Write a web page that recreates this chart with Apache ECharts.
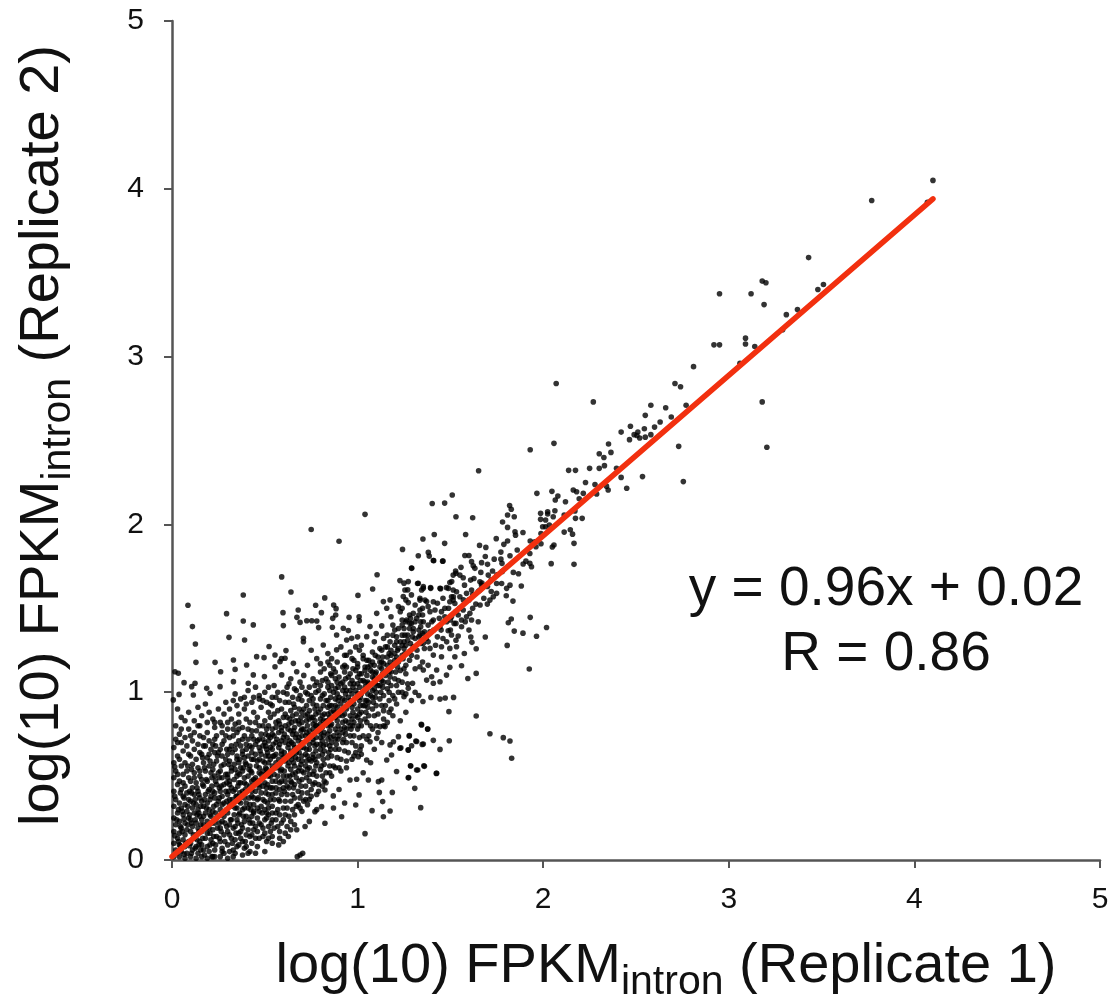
<!DOCTYPE html>
<html><head><meta charset="utf-8">
<style>html,body{margin:0;padding:0;background:#fff}#c{width:1116px;height:997px}</style>
<script src="https://cdn.jsdelivr.net/npm/echarts@6/dist/echarts.min.js"></script>
</head><body><div id="c"></div>
<script>
const axisTicks=[0,1,2,3,4,5];
const fitX=[0,4.1];
const fitY=[0.02,3.94];
const fitLabel='y = 0.96x + 0.02';
const corrLabel='R = 0.86';
const tail=[[4.1,4.05],[3.77,3.93],[4.07,3.92],[3.43,3.59],[3.51,3.43],[3.48,3.4],[3.18,3.45],[3.2,3.44],[2.95,3.375],[3.12,3.375],[3.19,3.31],[3.37,3.28],[3.31,3.25],[3.29,3.16],[3.09,3.11],[3.09,3.075],[2.92,3.07],[2.95,3.07],[3.14,3.06],[3.06,2.96],[2.81,2.94],[2.71,2.84],[2.74,2.82],[2.77,2.71],[3.18,2.73],[2.58,2.71],[2.66,2.695],[2.55,2.65],[2.69,2.64],[2.63,2.61],[2.47,2.585],[2.6,2.58],[2.545,2.57],[2.42,2.55],[2.51,2.55],[2.49,2.535],[2.505,2.53],[2.58,2.535],[2.55,2.52],[2.52,2.515],[2.465,2.505],[2.73,2.465],[3.205,2.46],[2.42,2.28],[2.535,2.285],[2.755,2.255],[2.45,2.215],[2.27,2.73],[2.058,2.483],[1.93,2.445],[1.652,2.32],[2.137,2.322],[2.174,2.322],[2.25,2.334],[2.302,2.334],[2.33,2.35],[2.327,2.399],[2.302,2.421],[2.365,2.429],[2.352,2.479],[2.395,2.334],[2.228,2.25],[2.279,2.238],[2.341,2.228],[2.35,2.205],[2.288,2.181],[1.966,2.185],[2.047,2.197],[2.079,2.169],[2.065,2.145],[2.12,2.135],[2.162,2.205],[2.18,2.195],[2.216,2.185],[2.194,2.153],[2.07,2.84]];
const midUpper=[[1.51,2.175],[1.402,2.125],[1.469,2.127],[1.819,2.113],[1.828,2.09],[1.808,2.056],[1.844,2.046],[1.781,2.014],[1.808,1.982],[1.53,2.046],[1.62,2.04],[1.986,2.066],[2.024,2.075],[2.024,2.062],[2.063,2.081],[2.054,2.046],[1.986,2.03],[2.013,2.026],[1.997,1.986],[2.013,1.986],[2.033,1.996],[2.113,2.056],[2.171,2.08],[2.174,2.036],[2.21,2.036],[2.113,1.954],[2.146,1.968],[2.158,1.942],[2.166,1.887],[2.166,1.762],[2.043,1.766],[1.848,1.956],[1.851,1.936],[1.891,1.952],[1.988,1.946],[1.93,1.901],[1.955,1.897],[1.988,1.885],[2.058,1.877],[2.049,1.865],[1.961,1.867],[1.582,1.94],[1.413,1.94],[1.352,1.913],[1.469,1.887],[1.242,1.851],[1.327,1.813],[1.381,1.833],[1.386,1.811],[1.408,1.785],[1.458,1.781],[1.291,1.738],[1.747,1.915],[1.808,1.901],[1.788,1.881],[1.657,1.875],[1.691,1.863],[1.772,1.835],[1.86,1.847],[1.928,1.827],[1.578,1.815],[1.6,1.815],[1.688,1.809],[1.736,1.793],[1.772,1.793],[1.821,1.813],[1.778,1.768],[1.614,1.778],[1.668,1.772],[1.7,1.762],[1.623,1.754],[1.907,1.781],[1.928,1.768],[1.937,1.748],[1.892,1.764],[1.557,1.744],[1.528,1.722],[1.551,1.698],[1.515,1.698],[1.569,1.682],[1.632,1.738],[1.664,1.714],[1.727,1.722],[1.704,1.698],[1.839,1.714],[1.867,1.706],[1.627,1.678],[1.609,1.668],[1.497,1.654],[1.659,1.658],[1.668,1.638],[1.749,1.648],[1.776,1.648],[1.821,1.638],[1.803,1.619],[1.882,1.633],[1.576,1.638],[1.515,1.609],[1.533,1.599],[1.614,1.609],[1.659,1.609],[1.749,1.589],[1.731,1.569],[1.713,1.549],[1.801,1.575],[1.837,1.543],[1.699,1.525],[1.637,1.525],[1.393,1.623],[1.447,1.617],[1.479,1.623],[1.323,1.648],[1.354,1.629],[1.345,1.609],[1.408,1.539],[1.336,1.549],[1.363,1.549],[1.506,1.569],[1.515,1.549],[1.497,1.539],[1.551,1.569],[1.587,1.589],[1.524,1.529],[1.47,1.5],[1.452,1.48],[1.417,1.49],[1.39,1.48],[1.336,1.49],[1.3,1.47],[1.264,1.43],[1.282,1.41],[1.318,1.44],[1.354,1.42],[1.408,1.43],[1.444,1.39],[1.506,1.45],[1.569,1.49],[1.587,1.45],[1.614,1.43],[1.65,1.42],[1.56,1.39],[1.542,1.46],[1.605,1.47],[1.25,1.65],[1.27,1.61],[1.26,1.55],[1.29,1.58],[1.31,1.52],[1.24,1.5],[1.35,1.46],[1.38,1.51],[1.43,1.53],[1.46,1.56],[1.49,1.5],[1.53,1.48],[1.44,1.44],[1.48,1.42],[1.52,1.41],[1.58,1.42],[1.62,1.5],[1.66,1.52],[1.68,1.56],[1.72,1.6],[1.3,1.36],[1.34,1.39],[1.38,1.4],[1.41,1.37]];
const midLower=[[1.812,1.414],[1.828,1.436],[1.93,1.446],[2.018,1.386],[1.844,1.364],[1.891,1.352],[1.964,1.333],[1.806,1.279],[1.925,1.138],[1.688,1.329],[1.61,1.329],[1.616,1.297],[1.639,1.259],[1.575,1.231],[1.56,1.158],[1.639,1.112],[1.594,1.082],[1.488,1.366],[1.506,1.341],[1.542,1.335],[1.452,1.271],[1.533,1.271],[1.497,1.261],[1.39,1.261],[1.336,1.341],[1.354,1.291],[1.408,1.221],[1.452,1.211],[1.524,1.211],[1.497,1.148],[1.336,1.152],[1.354,1.132],[1.426,1.132],[1.479,1.102],[1.444,1.062],[1.408,1.053],[1.399,1.092],[1.372,1.072],[1.296,1.053],[1.273,1.023],[1.25,0.973],[1.352,0.945],[1.395,0.969],[1.444,0.959],[1.472,0.965],[1.517,0.969],[1.492,0.884],[1.639,0.858],[1.343,0.808],[1.377,0.78],[1.278,0.739],[1.314,0.709],[1.291,0.681],[1.273,0.655],[1.233,0.669],[1.348,0.689],[1.408,0.713],[1.494,0.711],[1.444,0.659],[1.713,0.752],[1.785,0.729],[1.821,0.709],[1.83,0.606],[1.285,0.562],[1.357,0.562],[1.318,0.536],[1.424,0.516],[1.273,0.49],[1.04,0.157],[1.34,0.312],[1.426,0.517],[1.36,0.558],[1.324,0.536],[1.286,0.56],[1.275,0.491],[1.308,0.427],[1.187,0.403],[1.175,0.292],[1.139,0.258],[1.078,0.294],[1.135,0.348],[1.117,0.403],[1.112,0.467],[1.13,0.477],[1.058,0.477],[0.995,0.481],[0.959,0.477],[1.008,0.388],[0.99,0.328],[0.914,0.258],[0.824,0.219],[0.69,0.03],[0.704,0.04],[0.675,0.02],[0.575,0.09],[0.6,0.11],[0.627,0.14],[0.672,0.18],[0.717,0.2],[0.77,0.288],[0.806,0.318],[0.869,0.382],[0.824,0.417],[1.21,0.527],[1.22,0.735],[1.193,0.705],[1.175,0.686],[1.279,0.741],[1.318,0.706],[1.273,0.656],[1.228,0.666],[1.345,0.805],[1.378,0.781],[1.354,0.691],[1.157,0.596],[1.183,0.626],[1.121,0.795],[1.148,0.795],[1.103,0.725],[1.067,0.705],[1.013,0.656],[1.049,0.596],[1.004,0.616],[1.29,0.95],[1.31,1.0],[1.33,0.98],[1.26,1.11],[1.28,1.19],[1.25,1.26],[1.27,1.31],[1.3,1.27],[1.32,1.21],[1.35,1.18],[1.38,1.16],[1.24,1.06],[1.22,1.0],[1.21,0.93],[1.26,0.88],[1.23,0.83],[1.19,0.86],[1.16,0.82],[1.14,0.89],[1.17,0.95],[1.13,0.7],[1.09,0.66],[1.07,0.58],[1.03,0.52],[0.93,0.34],[0.87,0.31],[0.9,0.42],[0.78,0.3],[0.74,0.23],[0.66,0.21]];
const leftUpper=[[0.086,1.518],[0.11,1.391],[0.126,1.287],[0.129,1.178],[0.384,1.579],[0.591,1.687],[0.641,1.597],[0.294,1.468],[0.384,1.424],[0.438,1.401],[0.307,1.327],[0.391,1.311],[0.598,1.474],[0.6,1.397],[0.68,1.49],[0.673,1.446],[0.774,1.518],[0.823,1.562],[0.805,1.474],[0.871,1.52],[0.884,1.498],[1.002,1.577],[1.081,1.615],[1.105,1.7],[1.291,1.74],[1.41,1.784],[1.46,1.782],[0.954,1.446],[1.008,1.45],[1.009,1.426],[0.866,1.44],[0.882,1.46],[0.69,1.416],[0.726,1.426],[0.753,1.426],[0.78,1.424],[0.79,1.385],[0.864,1.387],[0.887,1.341],[0.923,1.381],[0.95,1.367],[0.968,1.321],[0.941,1.311],[1.049,1.331],[1.067,1.391],[1.103,1.47],[1.13,1.395],[1.157,1.5],[1.139,1.54],[1.175,1.55],[1.22,1.51],[1.228,1.665],[1.273,1.659],[1.255,1.609],[1.246,1.57],[1.273,1.534],[1.327,1.649],[1.354,1.619],[1.394,1.619],[1.336,1.56],[1.372,1.54],[1.444,1.619],[1.489,1.619],[1.507,1.659],[1.53,1.709],[1.516,1.569],[0.016,1.122],[0.034,1.113],[0.065,1.057],[0.124,1.053],[0.106,1.033],[0.115,0.983],[0.038,0.987],[0.007,0.954],[0.187,1.023],[0.259,1.033],[0.205,0.993],[0.232,1.178],[0.262,1.122],[0.331,1.192],[0.34,1.136],[0.402,1.162],[0.331,1.063],[0.411,1.053],[0.456,1.212],[0.496,1.206],[0.438,1.103],[0.498,1.093],[0.523,1.272],[0.555,1.222],[0.614,1.248],[0.609,1.202],[0.582,1.182],[0.555,1.152],[0.654,1.172],[0.591,1.103],[0.672,1.122],[0.708,1.321],[0.708,1.301],[0.815,1.281],[0.887,1.252],[0.75,1.97],[0.9,1.9],[1.04,2.06],[0.59,1.2],[0.75,1.25],[0.78,1.2],[0.84,1.18],[0.94,1.22],[0.99,1.27],[1.03,1.22],[1.09,1.3],[1.12,1.26],[1.16,1.34],[1.19,1.4],[1.21,1.3],[1.18,1.22],[1.13,1.18],[1.07,1.16],[1.0,1.15],[0.93,1.12],[0.86,1.1],[0.8,1.12],[0.73,1.16],[0.69,1.06],[0.63,1.05],[0.55,1.04],[0.47,0.98],[0.39,0.97],[0.34,0.99],[0.29,0.94],[0.25,0.9],[0.18,0.93],[0.14,0.91],[0.09,0.88],[0.05,0.85],[0.02,0.8]];
const denseOrigin=[[.01,.02],[.02,.06],[.01,.1],[.03,.13],[.01,.17],[.02,.21],[.01,.25],[.03,.28],[.01,.32],[.02,.36],[.01,.41],[.03,.45],[.01,.49],[.02,.53],[.01,.58],[.03,.62],[.01,.67],[.02,.72],[.04,.02],[.05,.05],[.04,.09],[.06,.12],[.04,.16],[.05,.19],[.04,.23],[.06,.27],[.05,.31],[.04,.34],[.06,.38],[.05,.42],[.04,.47],[.06,.51],[.05,.56],[.04,.6],[.06,.65],[.05,.7],[.04,.75],[.07,.01],[.08,.04],[.07,.08],[.09,.11],[.07,.15],[.08,.18],[.07,.22],[.09,.25],[.08,.29],[.07,.33],[.09,.36],[.08,.4],[.07,.44],[.09,.49],[.08,.53],[.07,.58],[.09,.63],[.08,.68],[.07,.73],[.09,.78],[.1,.02],[.11,.06],[.1,.1],[.12,.13],[.1,.17],[.11,.2],[.1,.24],[.12,.28],[.11,.31],[.1,.35],[.12,.39],[.11,.43],[.1,.47],[.12,.52],[.11,.57],[.1,.62],[.12,.66],[.11,.71],[.12,.76],[.13,.01],[.14,.04],[.13,.08],[.15,.11],[.13,.15],[.14,.19],[.13,.22],[.15,.26],[.14,.3],[.13,.33],[.15,.37],[.14,.41],[.13,.46],[.15,.5],[.14,.55],[.13,.6],[.15,.64],[.14,.69],[.15,.74],[.14,.8],[.16,.02],[.17,.06],[.16,.09],[.18,.13],[.16,.17],[.17,.21],[.16,.24],[.18,.28],[.17,.32],[.16,.35],[.18,.39],[.17,.44],[.16,.48],[.18,.53],[.17,.58],[.16,.63],[.18,.68],[.17,.73],[.19,.01],[.2,.05],[.19,.08],[.21,.12],[.19,.16],[.2,.19],[.19,.23],[.21,.26],[.2,.3],[.19,.34],[.21,.38],[.2,.42],[.19,.47],[.21,.52],[.2,.56],[.19,.61],[.21,.66],[.2,.71],[.19,.76],[.22,.02],[.23,.06],[.22,.1],[.24,.14],[.22,.18],[.23,.22],[.24,.25],[.22,.29],[.24,.33],[.23,.37],[.22,.41],[.24,.45],[.23,.5],[.22,.54],[.24,.59],[.23,.64],[.22,.69],[.24,.74],[.23,.79],[.22,.84],[.12,.83],[.16,.86],[.07,.83],[.03,.9],[.2,.88]];
const denseLow=[[.26,.02],[.27,.07],[.26,.11],[.28,.15],[.26,.19],[.27,.23],[.28,.26],[.26,.3],[.28,.34],[.27,.38],[.26,.41],[.28,.45],[.27,.49],[.26,.53],[.28,.57],[.27,.62],[.26,.66],[.28,.71],[.27,.76],[.26,.82],[.28,.87],[.3,.01],[.31,.05],[.3,.09],[.32,.13],[.3,.17],[.31,.21],[.32,.24],[.3,.28],[.32,.32],[.31,.36],[.3,.39],[.32,.43],[.31,.47],[.3,.51],[.32,.55],[.31,.59],[.3,.63],[.32,.68],[.31,.73],[.3,.78],[.32,.84],[.31,.9],[.33,.95],[.34,.04],[.35,.08],[.34,.12],[.36,.16],[.34,.2],[.35,.24],[.36,.27],[.34,.31],[.36,.35],[.35,.38],[.34,.42],[.36,.46],[.35,.5],[.34,.54],[.36,.58],[.35,.62],[.34,.66],[.36,.71],[.35,.76],[.34,.81],[.36,.87],[.38,.03],[.39,.07],[.38,.11],[.4,.15],[.38,.19],[.39,.23],[.4,.26],[.38,.3],[.4,.34],[.39,.37],[.38,.41],[.4,.45],[.39,.49],[.38,.53],[.4,.57],[.39,.61],[.38,.65],[.4,.69],[.39,.74],[.38,.79],[.4,.84],[.39,.9],[.42,.05],[.43,.1],[.42,.14],[.44,.18],[.42,.22],[.43,.26],[.44,.29],[.42,.33],[.44,.37],[.43,.41],[.42,.44],[.44,.48],[.43,.52],[.42,.56],[.44,.6],[.43,.64],[.42,.68],[.44,.72],[.43,.77],[.42,.82],[.44,.88],[.43,.94],[.46,.08],[.47,.13],[.46,.17],[.48,.21],[.46,.25],[.47,.29],[.48,.32],[.46,.36],[.48,.4],[.47,.43],[.46,.47],[.48,.51],[.47,.55],[.46,.59],[.48,.63],[.47,.67],[.46,.71],[.48,.75],[.47,.8],[.46,.85],[.48,.91],[.47,.96],[.5,.05],[.51,.11],[.5,.16],[.52,.2],[.5,.24],[.51,.28],[.52,.31],[.5,.35],[.52,.39],[.51,.43],[.5,.46],[.52,.5],[.51,.54],[.5,.58],[.52,.62],[.51,.66],[.5,.7],[.52,.74],[.51,.78],[.5,.83],[.52,.88],[.51,.94],[.5,1.0],[.52,1.03],[.37,.96],[.41,1.01],[.45,1.03]];
const denseMid=[[.54,.14],[.55,.19],[.54,.24],[.56,.28],[.54,.32],[.55,.36],[.56,.4],[.54,.43],[.56,.47],[.55,.51],[.54,.54],[.56,.58],[.55,.62],[.54,.66],[.56,.7],[.55,.74],[.54,.78],[.56,.82],[.55,.87],[.54,.92],[.56,.97],[.58,.17],[.59,.22],[.58,.27],[.6,.31],[.58,.35],[.59,.39],[.6,.43],[.58,.46],[.6,.5],[.59,.54],[.58,.57],[.6,.61],[.59,.65],[.58,.69],[.6,.73],[.59,.77],[.58,.81],[.6,.85],[.59,.9],[.58,.95],[.6,1.0],[.62,.2],[.63,.26],[.62,.31],[.64,.35],[.62,.39],[.63,.43],[.64,.47],[.62,.5],[.64,.54],[.63,.58],[.62,.61],[.64,.65],[.63,.69],[.62,.73],[.64,.77],[.63,.81],[.62,.85],[.64,.89],[.63,.94],[.62,.99],[.64,1.08],[.66,.27],[.67,.32],[.66,.37],[.68,.41],[.66,.45],[.67,.49],[.68,.53],[.66,.56],[.68,.6],[.67,.64],[.66,.67],[.68,.71],[.67,.75],[.66,.79],[.68,.83],[.67,.87],[.66,.91],[.68,.96],[.67,1.01],[.7,.29],[.71,.35],[.7,.4],[.72,.44],[.7,.48],[.71,.52],[.72,.56],[.7,.59],[.72,.63],[.71,.67],[.7,.7],[.72,.74],[.71,.78],[.7,.82],[.72,.86],[.71,.9],[.7,.95],[.72,1.0],[.71,1.1],[.74,.36],[.75,.42],[.74,.47],[.76,.51],[.74,.55],[.75,.59],[.76,.63],[.74,.66],[.76,.7],[.75,.74],[.74,.77],[.76,.81],[.75,.85],[.74,.89],[.76,.93],[.75,.98],[.74,1.03],[.76,1.08],[.78,.39],[.79,.45],[.78,.5],[.8,.54],[.78,.58],[.79,.62],[.8,.66],[.78,.69],[.8,.73],[.79,.77],[.78,.8],[.8,.84],[.79,.88],[.78,.92],[.8,.96],[.79,1.01],[.78,1.06],[.8,1.17],[.82,.47],[.83,.52],[.82,.57],[.84,.61],[.82,.65],[.83,.69],[.84,.72],[.82,.76],[.84,.8],[.83,.83],[.82,.87],[.84,.91],[.83,.95],[.82,.99],[.84,1.03],[.83,1.08],[.82,1.14],[.84,1.23],[.86,.5],[.87,.56],[.86,.62],[.88,.66],[.86,.7],[.87,.74],[.88,.78],[.86,.81],[.88,.85],[.87,.89],[.86,.92],[.88,.96],[.87,1.0],[.86,1.04],[.88,1.08],[.87,1.14],[.86,1.2]];
const denseHigh=[[.9,.55],[.91,.6],[.9,.66],[.92,.7],[.9,.74],[.91,.78],[.92,.82],[.9,.86],[.92,.9],[.91,.93],[.9,.97],[.92,1.01],[.91,1.05],[.9,1.09],[.92,1.15],[.91,1.27],[.94,.59],[.95,.64],[.94,.7],[.96,.74],[.94,.78],[.95,.82],[.96,.86],[.94,.9],[.96,.93],[.95,.97],[.94,1.01],[.96,1.05],[.95,1.09],[.94,1.15],[.96,1.24],[.98,.62],[.99,.68],[.98,.74],[1,.78],[.98,.82],[.99,.86],[1,.9],[.98,.93],[1,.97],[.99,1.01],[.98,1.05],[1,1.09],[.99,1.13],[.98,1.19],[1,1.33],[1.02,.68],[1.03,.74],[1.02,.8],[1.04,.84],[1.02,.88],[1.03,.92],[1.04,.95],[1.02,.99],[1.04,1.03],[1.03,1.07],[1.02,1.11],[1.04,1.15],[1.03,1.2],[1.02,1.28],[1.06,.74],[1.07,.8],[1.06,.86],[1.08,.9],[1.06,.94],[1.07,.98],[1.08,1.01],[1.06,1.05],[1.08,1.09],[1.07,1.13],[1.06,1.19],[1.08,1.24],[1.1,.8],[1.11,.87],[1.1,.92],[1.12,.96],[1.1,1.0],[1.11,1.04],[1.12,1.08],[1.1,1.12],[1.12,1.15],[1.11,1.21],[1.1,1.35],[1.14,.84],[1.15,.92],[1.14,.98],[1.16,1.02],[1.14,1.06],[1.15,1.1],[1.16,1.13],[1.14,1.17],[1.16,1.21],[1.15,1.27],[1.14,1.32],[1.18,.9],[1.19,.98],[1.18,1.04],[1.2,1.08],[1.18,1.12],[1.19,1.16],[1.2,1.19],[1.18,1.25],[1.2,1.28],[1.19,1.34],[1.18,1.45],[1.22,1.07],[1.23,1.13],[1.22,1.18],[1.24,1.22],[1.22,1.26],[1.23,1.3],[1.24,1.34],[1.22,1.38],[1.24,1.43],[1.23,1.48],[1.26,.99],[1.27,1.05],[1.26,1.16],[1.28,1.24],[1.26,1.28],[1.27,1.34],[1.28,1.38],[1.26,1.42],[1.28,1.46],[1.31,1.14],[1.32,1.25],[1.31,1.32],[1.33,1.37],[1.31,1.42],[1.33,1.46],[1.36,1.26],[1.37,1.32],[1.36,1.36],[1.35,1.5],[1.42,1.28],[1.43,1.33],[1.46,1.32],[1.5,1.37],[1.48,1.3],[1.53,1.31],[1.56,1.43],[1.6,1.37]];
const coreNearOrigin=[[.025,.04],[.035,.11],[.015,.145],[.045,.2],[.025,.24],[.035,.3],[.015,.38],[.045,.4],[.03,.51],[.015,.555],[.045,.085],[.065,.035],[.075,.1],[.055,.17],[.085,.21],[.065,.245],[.055,.29],[.085,.32],[.065,.37],[.095,.41],[.06,.46],[.085,.56],[.105,.04],[.095,.085],[.125,.07],[.115,.15],[.135,.12],[.105,.22],[.125,.24],[.095,.27],[.135,.27],[.115,.34],[.125,.36],[.105,.4],[.135,.43],[.12,.49],[.105,.54],[.155,.06],[.145,.09],[.175,.03],[.165,.13],[.145,.17],[.185,.19],[.155,.21],[.17,.26],[.145,.28],[.185,.31],[.155,.32],[.175,.36],[.145,.39],[.195,.41],[.165,.45],[.185,.48],[.15,.53],[.175,.55],[.165,.61],[.215,.02],[.205,.09],[.235,.09],[.225,.14],[.205,.16],[.245,.19],[.215,.22],[.235,.28],[.205,.27],[.225,.32],[.25,.35],[.205,.36],[.23,.4],[.215,.44],[.255,.43],[.235,.47],[.215,.49],[.25,.52],[.225,.57],[.205,.59],[.245,.62],[.235,.68],[.27,.05],[.255,.13],[.285,.11],[.265,.17],[.295,.2],[.255,.22],[.285,.22],[.265,.27],[.295,.3],[.27,.33],[.295,.35],[.255,.37],[.29,.41],[.265,.44],[.295,.46],[.255,.49],[.29,.51],[.265,.56],[.29,.6],[.25,.64],[.295,.66],[.27,.69],[.325,.1],[.31,.15],[.345,.16],[.33,.19],[.315,.24],[.355,.22],[.335,.27],[.31,.33],[.35,.31],[.325,.36],[.305,.41],[.345,.38],[.33,.41],[.355,.44],[.31,.45],[.335,.48],[.3,.49],[.355,.52],[.32,.53],[.335,.57],[.305,.57],[.35,.6],[.325,.64],[.31,.66],[.345,.69],[.33,.74],[.37,.13],[.395,.11],[.375,.21],[.41,.18],[.385,.26],[.365,.28],[.415,.24],[.39,.31],[.37,.34],[.41,.31],[.385,.39],[.365,.4],[.415,.37],[.395,.42],[.37,.46],[.415,.42],[.39,.46],[.365,.51],[.41,.5],[.385,.55],[.37,.55],[.415,.54],[.395,.58],[.365,.6],[.41,.62],[.38,.63],[.4,.66],[.37,.68],[.41,.72],[.38,.72],[.36,.78],[.45,.2],[.435,.22],[.47,.22],[.44,.28],[.46,.31],[.425,.3],[.485,.28],[.44,.33],[.465,.37],[.43,.38],[.49,.36],[.45,.41],[.47,.45],[.43,.47],[.49,.44],[.45,.49],[.47,.52],[.425,.53],[.49,.53],[.455,.56],[.47,.6],[.43,.6],[.49,.59],[.45,.63],[.475,.65],[.43,.67],[.49,.68],[.45,.69],[.47,.72],[.43,.74],[.49,.72],[.455,.77],[.51,.25],[.535,.22],[.52,.27],[.5,.3],[.54,.28],[.515,.34],[.53,.36],[.505,.4],[.54,.39],[.515,.45],[.53,.43],[.505,.51],[.54,.47],[.515,.52],[.53,.5],[.505,.55],[.54,.56],[.52,.58],[.53,.6],[.505,.62],[.545,.62],[.515,.64],[.53,.67],[.505,.68],[.545,.69],[.52,.71],[.53,.73],[.505,.75],[.54,.75],[.52,.8],[.53,.85]];
const coreAlongLine=[[.57,.3],[.575,.36],[.56,.43],[.58,.42],[.57,.5],[.585,.53],[.565,.55],[.59,.47],[.575,.6],[.56,.63],[.59,.63],[.575,.67],[.565,.72],[.59,.71],[.575,.76],[.56,.79],[.59,.79],[.575,.83],[.61,.35],[.605,.41],[.62,.44],[.61,.47],[.635,.5],[.605,.53],[.625,.56],[.61,.59],[.635,.62],[.605,.64],[.625,.67],[.61,.7],[.635,.71],[.605,.75],[.625,.78],[.61,.8],[.635,.84],[.61,.87],[.65,.39],[.655,.43],[.645,.46],[.665,.52],[.65,.51],[.655,.58],[.645,.6],[.665,.61],[.65,.63],[.655,.69],[.645,.7],[.665,.73],[.65,.75],[.655,.77],[.645,.82],[.665,.83],[.65,.86],[.655,.93],[.69,.37],[.695,.44],[.685,.47],[.7,.53],[.685,.55],[.695,.57],[.7,.62],[.685,.64],[.695,.67],[.7,.74],[.685,.73],[.695,.77],[.7,.78],[.685,.81],[.695,.85],[.7,.88],[.685,.9],[.73,.4],[.725,.49],[.74,.51],[.73,.54],[.725,.59],[.74,.6],[.73,.62],[.725,.66],[.74,.69],[.73,.72],[.725,.76],[.74,.74],[.73,.8],[.725,.83],[.74,.84],[.73,.87],[.725,.92],[.74,.95],[.77,.46],[.765,.53],[.775,.56],[.77,.6],[.76,.61],[.775,.65],[.77,.68],[.76,.72],[.775,.73],[.77,.76],[.76,.78],[.775,.8],[.77,.83],[.76,.85],[.775,.87],[.77,.9],[.76,.96],[.775,1.0],[.81,.5],[.805,.56],[.815,.6],[.81,.63],[.8,.69],[.815,.68],[.81,.71],[.8,.76],[.815,.74],[.81,.79],[.8,.81],[.815,.83],[.81,.86],[.8,.9],[.815,.92],[.81,.98],[.8,1.04],[.85,.56],[.845,.64],[.855,.66],[.85,.68],[.84,.75],[.855,.73],[.85,.77],[.84,.83],[.855,.8],[.85,.85],[.84,.87],[.855,.88],[.85,.92],[.84,.95],[.855,.97],[.85,1.01],[.84,1.06],[.855,1.11],[.89,.61],[.885,.69],[.895,.72],[.89,.76],[.88,.72],[.895,.8],[.89,.83],[.88,.88],[.895,.87],[.89,.91],[.88,.92],[.895,.95],[.89,.99],[.88,1.02],[.895,1.03],[.89,1.06],[.88,1.12],[.93,.65],[.925,.72],[.935,.75],[.93,.79],[.92,.76],[.935,.83],[.93,.87],[.92,.86],[.935,.91],[.93,.95],[.92,.96],[.935,.99],[.93,1.03],[.92,1.06],[.935,1.08],[.93,1.16],[.97,.7],[.965,.78],[.975,.8],[.97,.84],[.96,.8],[.975,.88],[.97,.91],[.96,.95],[.975,.95],[.97,.99],[.96,1.01],[.975,1.03],[.97,1.07],[.96,1.11],[.975,1.14],[1.01,.73],[1.005,.8],[1.015,.83],[1.01,.87],[1,.85],[1.015,.92],[1.01,.95],[1,.99],[1.015,.97],[1.01,1.03],[1,1.05],[1.015,1.07],[1.01,1.11],[1,1.17],[1.05,.82],[1.045,.88],[1.055,.91],[1.05,.95],[1.04,.92],[1.055,.99],[1.05,1.02],[1.04,1.06],[1.055,1.06],[1.05,1.1],[1.04,1.13],[1.055,1.15],[1.05,1.19],[1.09,.86],[1.085,.94],[1.095,.97],[1.09,1.02],[1.08,.97],[1.095,1.05],[1.09,1.08],[1.08,1.12],[1.095,1.11],[1.09,1.16],[1.08,1.18],[1.095,1.22],[1.13,.92],[1.125,1.0],[1.135,1.03],[1.13,1.07],[1.12,1.04],[1.135,1.11],[1.13,1.14],[1.12,1.18],[1.135,1.21],[1.13,1.25],[1.17,1.0],[1.165,1.06],[1.175,1.09],[1.17,1.12],[1.16,1.16],[1.175,1.18],[1.17,1.23],[1.16,1.27],[1.175,1.3],[1.21,1.04],[1.205,1.12],[1.215,1.15],[1.21,1.21],[1.2,1.23],[1.215,1.25],[1.21,1.33],[1.2,1.37],[1.25,1.14],[1.245,1.2],[1.255,1.23],[1.25,1.3],[1.24,1.28],[1.255,1.34],[1.25,1.38],[1.24,1.4],[1.29,1.22],[1.285,1.29],[1.295,1.33],[1.29,1.41],[1.3,1.38],[1.285,1.44],[1.34,1.29],[1.33,1.33],[1.35,1.35],[1.34,1.42],[1.38,1.3],[1.39,1.36],[1.4,1.42],[1.45,1.37],[1.47,1.45],[1.5,1.43],[1.53,1.41],[1.55,1.5],[1.57,1.55],[1.6,1.55],[1.62,1.58],[1.65,1.6],[1.67,1.65],[1.7,1.63],[1.72,1.67],[1.75,1.7],[1.78,1.72]];
const widerBand=[[.2,.63],[.17,.68],[.23,.72],[.27,.8],[.33,.78],[.36,.82],[.41,.78],[.45,.82],[.49,.8],[.53,.93],[.57,.89],[.61,.94],[.65,.97],[.69,.98],[.73,.99],[.77,1.04],[.81,1.07],[.85,1.16],[.89,1.18],[.93,1.22],[.97,1.2],[1.01,1.25],[.03,.7],[.05,.78],[.1,.74],[.15,.8],[.19,.82],[.23,.82],[.29,.74],[.3,.82],[.35,.92],[.4,.93],[.44,.97],[.49,.95],[.54,.97],[.57,1.0],[.62,1.03],[.66,1.02],[.7,1.03],[.37,.17],[.33,.06],[.36,.09],[.4,.08],[.43,.15],[.45,.13],[.49,.14],[.52,.13],[.49,.19],[.53,.17],[.57,.2],[.56,.24],[.6,.24],[.61,.27],[.64,.23],[.65,.3],[.68,.33],[.69,.31],[.72,.36],[.73,.33],[.75,.38],[.76,.45],[.79,.41],[.81,.44],[.83,.46],[.85,.52],[.88,.55],[.91,.53],[.94,.55],[.97,.6],[.99,.64],[1.02,.63],[1.05,.72],[1.08,.78],[1.11,.76],[1.14,.8],[1.17,.88],[1.2,.96],[1.24,1.0],[.28,.04],[.23,.02],[.33,.02],[.41,.04],[.45,.04],[.54,.1],[.58,.13],[.61,.16],[.64,.18]];
const points=[].concat(tail,midUpper,midLower,leftUpper,denseOrigin,denseLow,denseMid,denseHigh,coreNearOrigin,coreAlongLine,widerBand);
const fitLine=fitX.map((x,i)=>[x,fitY[i]]);
const font='"Liberation Sans", Arial, Helvetica, sans-serif';
const rich={
  a:{fontFamily:font,fontSize:56,color:'#111',lineHeight:72},
  b:{fontFamily:font,fontSize:41,color:'#111',verticalAlign:'bottom',lineHeight:58}
};
const axisBase={
  type:'value',min:0,max:5,interval:1,
  splitLine:{show:false},
  axisLine:{show:true,onZero:false,lineStyle:{color:'#555',width:2.5}},
  axisTick:{show:true,length:8,lineStyle:{color:'#555',width:2}},
  axisLabel:{fontFamily:font,fontSize:30,color:'#111',formatter:v=>axisTicks.includes(v)?String(v):''},
  nameLocation:'middle'
};
const chart=echarts.init(document.getElementById('c'),null,{renderer:'canvas'});
chart.setOption({
  animation:false,
  backgroundColor:'#fff',
  grid:{left:172,right:16,top:21,bottom:137,containLabel:false,outerBoundsMode:'none'},
  xAxis:Object.assign({},axisBase,{axisLabel:Object.assign({},axisBase.axisLabel,{margin:25}),name:'{a|log(10) FPKM}{b|intron}{a| (Replicate 1)}',nameGap:71,nameTextStyle:{rich,padding:[0,0,0,60]}}),
  yAxis:Object.assign({},axisBase,{axisLabel:Object.assign({},axisBase.axisLabel,{margin:28}),name:'{a|log(10) FPKM}{b|intron}{a| (Replicate 2)}',nameGap:93,nameTextStyle:{rich,padding:[0,0,0,10]}}),
  series:[
    {type:'scatter',data:points,symbolSize:5.6,clip:false,itemStyle:{color:'#000'},large:false,z:2},
    {type:'line',data:fitLine,showSymbol:false,symbol:'none',lineStyle:{color:'#f2300f',width:5.5,cap:'round'},z:3}
  ],
  graphic:[
    {type:'text',x:886,y:590,style:{text:fitLabel,fontFamily:font,fontSize:55,fill:'#111',align:'center',verticalAlign:'middle'}},
    {type:'text',x:886,y:655,style:{text:corrLabel,fontFamily:font,fontSize:55,fill:'#111',align:'center',verticalAlign:'middle'}}
  ]
});
</script></body></html>
